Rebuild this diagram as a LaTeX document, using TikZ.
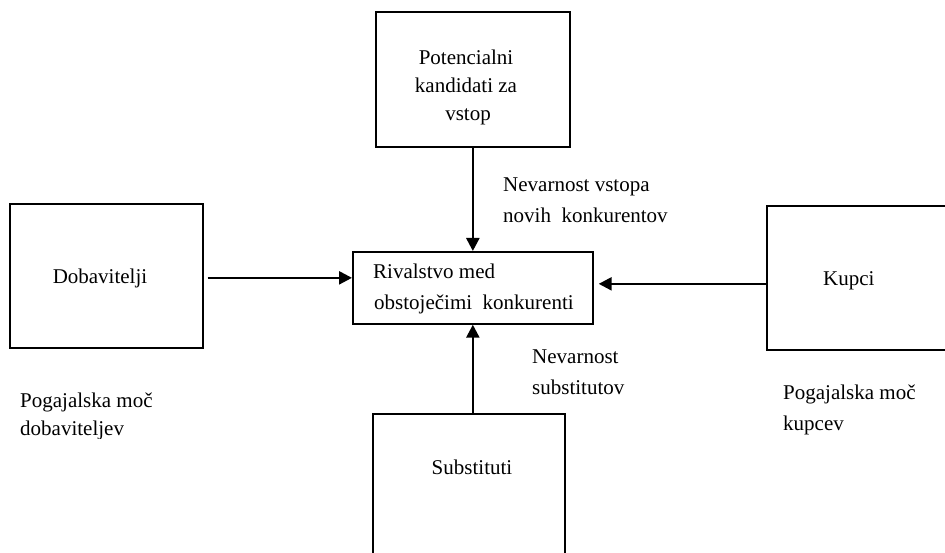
\documentclass[tikz,border=0pt]{standalone}
\usepackage{fontspec}
\setmainfont{Liberation Serif}
\usetikzlibrary{arrows.meta,calc}
\begin{document}
\begin{tikzpicture}[x=1pt,y=-1pt,
  box/.style={draw,line width=1.7pt,inner sep=0pt,anchor=north west},
  conn/.style={line width=2.4pt,-{Triangle[length=13pt,width=13pt]}},
  txt/.style={font=\fontsize{21}{30}\selectfont,inner sep=0pt}]
\useasboundingbox (0,0) rectangle (945,553);
\clip (0,0) rectangle (945,553);
% boxes
\node[box,minimum width=194pt,minimum height=135pt] (pot) at (375,11) {};
\node[box,minimum width=240pt,minimum height=72pt] (riv) at (352,251) {};
\node[box,minimum width=193pt,minimum height=144pt] (dob) at (9,203) {};
\node[box,minimum width=200pt,minimum height=144pt] (kup) at (766,205) {};
\node[box,minimum width=192pt,minimum height=160pt] (sub) at (372,413) {};
% box texts
\node[txt,anchor=base] (pot1) at (466,65) {Potencialni};
\node[txt,anchor=base] (pot2) at (466,93) {kandidati za};
\node[txt,anchor=base] (pot3) at (468,121) {vstop};
\node[txt,anchor=base west] (riv1) at (373,279) {Rivalstvo med};
\node[txt,anchor=base west] (riv2) at (374,309) {obstoječimi\ \ konkurenti};
\node[txt,anchor=base] (dobt) at (100,284) {Dobavitelji};
\node[txt,anchor=base west] (kupt) at (823,286) {Kupci};
\node[txt,anchor=base] (subt) at (472,474) {Substituti};
% labels
\node[txt,anchor=base west] (nv1) at (503,192) {Nevarnost vstopa};
\node[txt,anchor=base west] (nv2) at (503,223) {novih\ \ konkurentov};
\node[txt,anchor=base west] (ns1) at (532,363) {Nevarnost};
\node[txt,anchor=base west] (ns2) at (532,394) {substitutov};
\begin{scope}
  \clip (0,370) rectangle (200,438);
  \node[txt,anchor=base west] (pd1) at (20,407) {Pogajalska moč};
  \node[txt,anchor=base west] (pd2) at (20,435) {dobaviteljev};
\end{scope}
\begin{scope}
  \clip (770,370) rectangle (945,435);
  \node[txt,anchor=base west] (pk1) at (783,399) {Pogajalska moč};
  \node[txt,anchor=base west] (pk2) at (783,430) {kupcev};
\end{scope}
% connectors
\draw[conn] (pot.south) -- (riv.north);
\draw[conn] ($(dob.east)+(4,2)$) -- (riv.west |- {$(dob.east)+(0,2)$});
\draw[conn,shorten >=5pt] ($(kup.west)+(0,6)$) -- (riv.east |- {$(kup.west)+(0,6)$});
\draw[conn] (riv.south |- sub.north) -- (riv.south);
\end{tikzpicture}
\end{document}
